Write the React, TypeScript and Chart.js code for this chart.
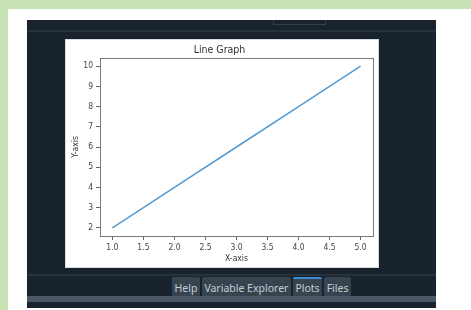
import React, { useEffect, useRef } from "react";
import { Chart, registerables } from "chart.js";

Chart.register(...registerables);

const xValues = [1, 2, 3, 4, 5];
const yValues = [2, 4, 6, 8, 10];
const xTicks = [1.0, 1.5, 2.0, 2.5, 3.0, 3.5, 4.0, 4.5, 5.0];
const yTicks = [2, 3, 4, 5, 6, 7, 8, 9, 10];
const chartTitle = "Line Graph";
const xTitle = "X-axis";
const yTitle = "Y-axis";
const tabLabels = ["Help", "Variable Explorer", "Plots", "Files"];
const activeTab = "Plots";

const FONT = "'DejaVu Sans Condensed', 'DejaVu Sans', sans-serif";

const boxPlugin = {
  id: "axesBox",
  afterDraw(chart: any) {
    const { ctx, chartArea } = chart;
    ctx.save();
    ctx.strokeStyle = "#7a7a7a";
    ctx.lineWidth = 1;
    ctx.strokeRect(
      Math.round(chartArea.left) + 0.5,
      Math.round(chartArea.top) + 0.5,
      Math.round(chartArea.right - chartArea.left),
      Math.round(chartArea.bottom - chartArea.top)
    );
    ctx.restore();
  },
};

function PlotFigure() {
  const ref = useRef<HTMLCanvasElement | null>(null);
  useEffect(() => {
    if (!ref.current) return;
    const chart = new Chart(ref.current, {
      type: "line",
      data: {
        datasets: [
          {
            data: xValues.map((x, i) => ({ x, y: yValues[i] })),
            borderColor: "#529ad2",
            borderWidth: 1.5,
            pointRadius: 0,
            tension: 0,
            fill: false,
          },
        ],
      },
      options: {
        animation: false,
        responsive: false,
        layout: { padding: { left: 0, right: 5, top: 0, bottom: 0 } },
        plugins: {
          legend: { display: false },
          tooltip: { enabled: false },
          title: {
            display: true,
            text: chartTitle,
            color: "#333",
            font: { family: FONT, size: 10.5, weight: "normal", lineHeight: 1.2 },
            padding: { top: 3.5, bottom: 1.9 },
          },
        },
        scales: {
          x: {
            type: "linear",
            min: 0.8,
            max: 5.2,
            afterBuildTicks: (s: any) => {
              s.ticks = xTicks.map((v) => ({ value: v }));
            },
            afterFit: (s: any) => {
              s.height = 31;
            },
            border: { display: false },
            grid: { drawOnChartArea: false, drawTicks: true, tickLength: 4, color: "#666" },
            ticks: {
              autoSkip: false,
              maxRotation: 0,
              padding: 3,
              color: "#444",
              font: { family: FONT, size: 8.5 },
              callback: (v: any) => Number(v).toFixed(1),
            },
            title: {
              display: true,
              text: xTitle,
              color: "#333",
              font: { family: FONT, size: 8.5 },
              padding: { top: 0, bottom: 3.5 },
            },
          },
          y: {
            type: "linear",
            min: 1.6,
            max: 10.4,
            afterBuildTicks: (s: any) => {
              s.ticks = yTicks.map((v) => ({ value: v }));
            },
            afterFit: (s: any) => {
              s.width = 34;
            },
            border: { display: false },
            grid: { drawOnChartArea: false, drawTicks: true, tickLength: 4, color: "#666" },
            ticks: {
              autoSkip: false,
              padding: 3,
              color: "#444",
              font: { family: FONT, size: 8.5 },
              callback: (v: any) => String(v),
            },
            title: {
              display: true,
              text: yTitle,
              color: "#333",
              font: { family: FONT, size: 8.5 },
              padding: { top: 5, bottom: 0 },
            },
          },
        },
      },
      plugins: [boxPlugin],
    } as any);
    return () => chart.destroy();
  }, []);
  return <canvas ref={ref} width={312} height={227} style={{ display: "block", width: 312, height: 227 }} />;
}

export default function App() {
  return (
    <div
      style={{
        position: "fixed",
        left: 0,
        top: 0,
        width: 471,
        height: 310,
        background: "#c8e3b6",
        overflow: "hidden",
        fontFamily: "'Noto Sans', sans-serif",
      }}
    >
      <div style={{ position: "absolute", left: 8, top: 9, right: 0, bottom: 0, background: "#ffffff" }} />
      <div style={{ position: "absolute", left: 27, top: 20, width: 409, height: 288, background: "#19232d" }}>
        <div
          style={{
            position: "absolute",
            left: 246,
            top: 0,
            width: 51,
            height: 4,
            borderLeft: "1px solid #34404c",
            borderRight: "1px solid #34404c",
            borderBottom: "1px solid #34404c",
          }}
        />
        <div style={{ position: "absolute", left: 0, top: 10, width: 409, height: 2, background: "#26313c" }} />
        <div
          style={{
            position: "absolute",
            left: 39,
            top: 20,
            width: 312,
            height: 227,
            background: "#fff",
            boxShadow: "0 0 0 1px #d8dcdf",
          }}
        >
          <PlotFigure />
        </div>
        <div style={{ position: "absolute", left: 0, top: 254, width: 409, height: 2, background: "#28333e" }} />
        <div
          style={{
            position: "absolute",
            left: 145,
            top: 257,
            height: 20,
            display: "flex",
            gap: 2,
          }}
        >
          {tabLabels.map((t) => (
            <div
              key={t}
              style={{
                height: 20,
                boxSizing: "border-box",
                padding: "0 2.5px",
                background: "#37444f",
                color: "#c3ccd4",
                fontSize: 10.5,
                lineHeight: "19px",
                borderTop: t === activeTab ? "2px solid #3a8fd6" : "2px solid #37444f",
                borderRadius: 2,
                whiteSpace: "nowrap",
              }}
            >
              {t}
            </div>
          ))}
        </div>
        <div style={{ position: "absolute", left: 0, top: 276, width: 409, height: 6, background: "#4a5866" }} />
      </div>
    </div>
  );
}
